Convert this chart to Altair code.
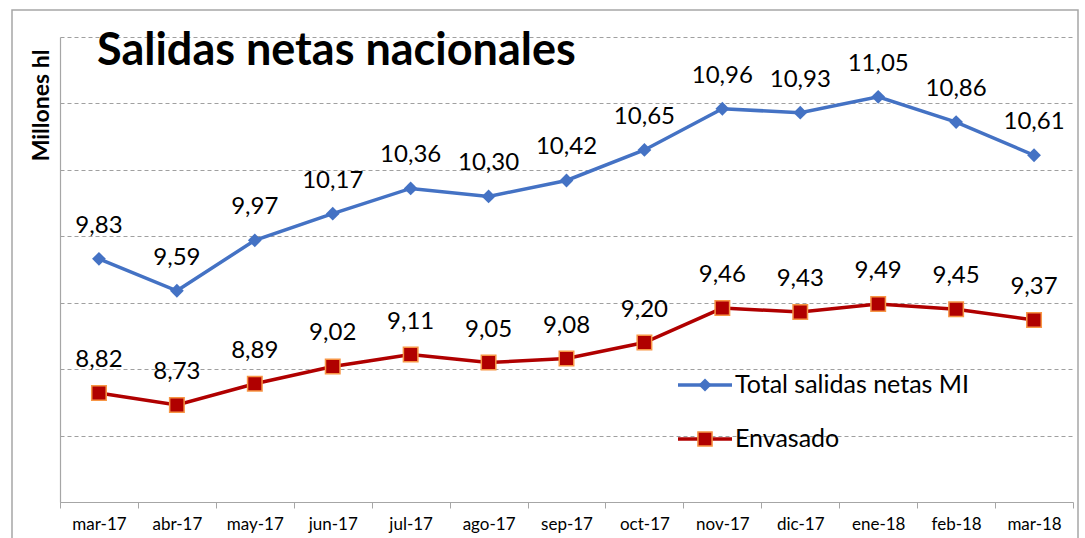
import altair as alt
import pandas as pd

months = ["mar-17", "abr-17", "may-17", "jun-17", "jul-17", "ago-17", "sep-17",
          "oct-17", "nov-17", "dic-17", "ene-18", "feb-18", "mar-18"]
total = [9.83, 9.59, 9.97, 10.17, 10.36, 10.30, 10.42, 10.65, 10.96, 10.93, 11.05, 10.86, 10.61]
envasado = [8.82, 8.73, 8.89, 9.02, 9.11, 9.05, 9.08, 9.20, 9.46, 9.43, 9.49, 9.45, 9.37]
series_names = ["Total salidas netas MI", "Envasado"]
series_colors = ["#4472C4", "#B00000"]
y_grid = [8.0, 8.5, 9.0, 9.5, 10.0, 10.5, 11.0, 11.5]

rows = []
for name, vals in zip(series_names, [total, envasado]):
    for m, v in zip(months, vals):
        rows.append({"mes": m, "serie": name, "valor": v,
                     "etiqueta": f"{v:.2f}".replace(".", ",")})
df = pd.DataFrame(rows)

FONT = "Lato"

x = alt.X("mes:N", sort=months, bandPosition=0.5,
          scale=alt.Scale(type="band", paddingInner=0, paddingOuter=0),
          axis=alt.Axis(title=None, tickBand="extent", labelAngle=0, labelFont=FONT,
                        labelFontSize=17, labelColor="black", domainColor="#a6a6a6",
                        tickColor="#a6a6a6", tickSize=6, labelPadding=8,
                        domainWidth=1.2, grid=False))
y = alt.Y("valor:Q", scale=alt.Scale(domain=[8, 11.5], nice=False, zero=False),
          axis=alt.Axis(values=y_grid, labels=False, ticks=False, grid=True,
                        gridDash=[4, 3], gridColor="#a0a0a0", gridWidth=1,
                        domainColor="#a6a6a6", domainWidth=1.2,
                        title="Millones hl", titleFont=FONT, titleFontSize=23,
                        titleFontWeight="bold", titleColor="black", titleAngle=-90,
                        titleX=-19, titleY=68, titleAlign="center", titleBaseline="middle"))
color = alt.Color("serie:N", scale=alt.Scale(domain=series_names, range=series_colors), legend=None)

base = alt.Chart(df)
lines = base.mark_line(strokeWidth=3.5).encode(x=x, y=y, color=color)

blue = base.transform_filter(alt.datum.serie == series_names[0])
red = base.transform_filter(alt.datum.serie == series_names[1])

pts_blue = blue.mark_point(shape="diamond", filled=True, size=190, color="#4472C4", opacity=1).encode(x=x, y=y)
pts_red = red.mark_point(shape="square", filled=True, size=210, fill="#B00000",
                         stroke="#F79646", strokeWidth=1.5, opacity=1).encode(x=x, y=y)

labels = base.mark_text(font=FONT, fontSize=24, color="black", dy=-33, baseline="middle").encode(
    x=x, y=y, text="etiqueta:N")

one = pd.DataFrame({"k": [0]})
title = alt.Chart(one).mark_text(text="Salidas netas nacionales", font=FONT, fontSize=45,
                                 fontWeight="bold", align="left", baseline="alphabetic",
                                 color="black").encode(x=alt.value(37), y=alt.value(28))

border = alt.Chart(one).mark_rect(fill=None, stroke="#a6a6a6", strokeWidth=1.5, clip=False).encode(
    x=alt.value(-48), x2=alt.value(1018), y=alt.value(-27), y2=alt.value(540))

leg = pd.DataFrame({"serie": series_names, "ly": [348, 402]})
leg_line = alt.Chart(leg).mark_rule(strokeWidth=3.5).encode(
    x=alt.value(618), x2=alt.value(672), y=alt.Y("ly:Q", scale=None),
    color=alt.Color("serie:N", scale=alt.Scale(domain=series_names, range=series_colors), legend=None))
leg_d = alt.Chart(leg.iloc[[0]]).mark_point(shape="diamond", filled=True, size=170, color="#4472C4", opacity=1).encode(
    x=alt.value(645), y=alt.Y("ly:Q", scale=None))
leg_s = alt.Chart(leg.iloc[[1]]).mark_point(shape="square", filled=True, size=200, fill="#B00000",
                                            stroke="#F79646", strokeWidth=1.5, opacity=1).encode(
    x=alt.value(645), y=alt.Y("ly:Q", scale=None))
leg_t = alt.Chart(leg).mark_text(font=FONT, fontSize=25, align="left", baseline="middle", color="black").encode(
    x=alt.value(675), y=alt.Y("ly:Q", scale=None), text="serie:N")

chart = alt.layer(border, lines, pts_blue, pts_red, labels, title,
                  leg_line, leg_d, leg_s, leg_t).properties(
    width=1013, height=465, autosize="none",
    padding={"left": 60, "top": 37, "right": 12, "bottom": 36},
    background="white",
).configure_view(stroke=None)

chart.save("out.html", embed_options={"renderer": "svg", "actions": False})
